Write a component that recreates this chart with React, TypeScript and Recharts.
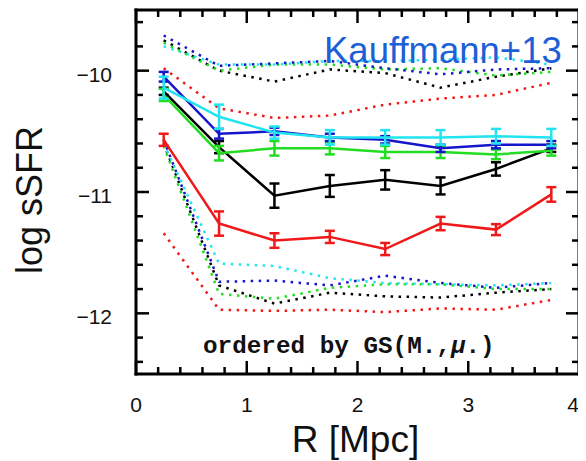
import { LineChart, Line, XAxis, YAxis, ErrorBar, Label } from "recharts"

// projected radius bins (Mpc)
const radius = [0.25, 0.75, 1.25, 1.75, 2.25, 2.75, 3.25, 3.75]

// median log sSFR with errors, per group
const red = [-10.57, -11.26, -11.4, -11.37, -11.47, -11.26, -11.31, -11.02]
const redErr = [0.05, 0.1, 0.06, 0.05, 0.05, 0.055, 0.045, 0.06]
const black = [-10.17, -10.63, -11.03, -10.95, -10.9, -10.95, -10.81, -10.64]
const blackErr = [0.03, 0.05, 0.1, 0.09, 0.08, 0.07, 0.055, 0.03]
const green = [-10.2, -10.68, -10.64, -10.64, -10.67, -10.67, -10.69, -10.66]
const greenErr = [0.05, 0.06, 0.06, 0.05, 0.05, 0.05, 0.04, 0.04]
const blue = [-10.05, -10.52, -10.5, -10.55, -10.57, -10.64, -10.61, -10.61]
const blueErr = [0.04, 0.04, 0.03, 0.03, 0.03, 0.03, 0.03, 0.03]
const cyan = [-10.14, -10.38, -10.51, -10.55, -10.55, -10.55, -10.54, -10.55]
const cyanErr = [0.09, 0.1, 0.05, 0.06, 0.06, 0.06, 0.06, 0.07]

// upper percentiles (dotted)
const redHi = [-9.98, -10.31, -10.39, -10.37, -10.28, -10.23, -10.2, -10.1]
const blackHi = [-9.75, -10.0, -10.09, -9.99, -10.02, -10.14, -10.05, -9.98]
const greenHi = [-9.77, -10.0, -9.95, -9.95, -9.99, -9.98, -10.04, -10.01]
const blueHi = [-9.71, -9.96, -9.94, -9.92, -9.98, -10.03, -9.99, -9.98]
const cyanHi = [-9.8, -9.95, -9.95, -9.92, -9.92, -9.91, -9.89, -9.95]

// lower percentiles (dotted)
const redLo = [-11.34, -11.97, -11.98, -11.97, -11.99, -11.96, -11.97, -11.89]
const blackLo = [-10.6, -11.77, -11.92, -11.83, -11.86, -11.87, -11.83, -11.8]
const greenLo = [-10.62, -11.84, -11.88, -11.79, -11.76, -11.76, -11.8, -11.8]
const blueLo = [-10.57, -11.74, -11.73, -11.77, -11.69, -11.75, -11.79, -11.75]
const cyanLo = [-10.6, -11.59, -11.61, -11.71, -11.75, -11.76, -11.77, -11.75]

const xTicks = [0, 0.2, 0.4, 0.6, 0.8, 1, 1.2, 1.4, 1.6, 1.8, 2, 2.2, 2.4, 2.6, 2.8, 3, 3.2, 3.4, 3.6, 3.8, 4]
const yTicks = [-12.4, -12.2, -12, -11.8, -11.6, -11.4, -11.2, -11, -10.8, -10.6, -10.4, -10.2, -10, -9.8, -9.6]

const rows = radius.map((r, i) => ({
  r,
  red: red[i], redErr: redErr[i], redHi: redHi[i], redLo: redLo[i],
  black: black[i], blackErr: blackErr[i], blackHi: blackHi[i], blackLo: blackLo[i],
  green: green[i], greenErr: greenErr[i], greenHi: greenHi[i], greenLo: greenLo[i],
  blue: blue[i], blueErr: blueErr[i], blueHi: blueHi[i], blueLo: blueLo[i],
  cyan: cyan[i], cyanErr: cyanErr[i], cyanHi: cyanHi[i], cyanLo: cyanLo[i],
}))

const colors: Record<string, string> = {
  red: "#f01818",
  black: "#000000",
  green: "#22dd22",
  blue: "#1515cc",
  cyan: "#22e4f0",
}
const order = ["black", "red", "green", "blue", "cyan"]

const FONT = "'Liberation Sans', Arial, Helvetica, sans-serif"
const MAJOR = 13
const MINOR = 7
const TW = 2.5

const frame = { stroke: "#000", strokeWidth: 3, strokeLinecap: "square" as const }

function BottomTick(props: any) {
  const { x, y, payload } = props
  const major = Number.isInteger(payload.value)
  // last label is pulled in a little so it stays on the page
  const lx = payload.value === 4 ? x - 6 : x
  return (
    <g>
      <line x1={x} x2={x} y1={y} y2={y - (major ? MAJOR : MINOR)} stroke="#000" strokeWidth={TW} />
      {major && (
        <text x={lx} y={y + 38} textAnchor="middle" fontSize={21} fontFamily={FONT} fill="#111">
          {payload.value}
        </text>
      )}
    </g>
  )
}

function TopTick(props: any) {
  const { x, y, payload } = props
  const major = Number.isInteger(payload.value)
  return <line x1={x} x2={x} y1={y} y2={y + (major ? MAJOR : MINOR)} stroke="#000" strokeWidth={TW} />
}

function LeftTick(props: any) {
  const { x, y, payload } = props
  const major = Number.isInteger(payload.value)
  return (
    <g>
      <line x1={x} x2={x + (major ? MAJOR : MINOR)} y1={y} y2={y} stroke="#000" strokeWidth={TW} />
      {major && (
        <text x={x - 24} y={y + 11} textAnchor="end" fontSize={21} fontFamily={FONT} fill="#111">
          {String(payload.value).replace("-", "\u2212")}
        </text>
      )}
    </g>
  )
}

function RightTick(props: any) {
  const { x, y, payload } = props
  const major = Number.isInteger(payload.value)
  return <line x1={x} x2={x - (major ? MAJOR : MINOR)} y1={y} y2={y} stroke="#000" strokeWidth={TW} />
}

function XTitle(props: any) {
  const vb = props.viewBox
  return (
    <text x={vb.x + vb.width / 2 - 2} y={vb.y + 78} textAnchor="middle" fontSize={37} fontFamily={FONT} fill="#111">
      R [Mpc]
    </text>
  )
}

function YTitle(props: any) {
  const vb = props.viewBox
  const cx = 34
  const cy = vb.y + vb.height / 2 + 8
  return (
    <text x={cx} y={cy} transform={`rotate(-90 ${cx} ${cy})`} textAnchor="middle" fontSize={36} fontFamily={FONT} fill="#111">
      log sSFR
    </text>
  )
}

export default function App() {
  return (
    <div style={{ position: "relative", width: 578, height: 453 }}>
      <LineChart width={578} height={453} data={rows} margin={{ top: 1, right: 6, left: 0, bottom: 0 }}>
        <XAxis
          xAxisId="b"
          dataKey="r"
          type="number"
          domain={[0, 4]}
          ticks={xTicks}
          interval={0}
          height={87}
          tickSize={0}
          tickMargin={0}
          tickLine={false}
          axisLine={frame}
          tick={BottomTick}
        >
          <Label content={XTitle} />
        </XAxis>
        <XAxis
          xAxisId="t"
          orientation="top"
          dataKey="r"
          type="number"
          domain={[0, 4]}
          ticks={xTicks}
          interval={0}
          height={1}
          tickSize={0}
          tickMargin={0}
          tickLine={false}
          axisLine={frame}
          tick={TopTick}
        />
        <YAxis
          yAxisId="l"
          type="number"
          domain={[-12.5, -9.5]}
          allowDataOverflow
          ticks={yTicks}
          interval={0}
          width={128}
          tickSize={0}
          tickMargin={0}
          tickLine={false}
          axisLine={frame}
          tick={LeftTick}
        >
          <Label content={YTitle} />
        </YAxis>
        <YAxis
          yAxisId="r"
          orientation="right"
          type="number"
          domain={[-12.5, -9.5]}
          allowDataOverflow
          ticks={yTicks}
          interval={0}
          width={1}
          tickSize={0}
          tickMargin={0}
          tickLine={false}
          axisLine={frame}
          tick={RightTick}
        />

        {/* percentile envelopes */}
        {order.map((k) => (
          <Line
            key={k + "Hi"}
            xAxisId="b"
            yAxisId="l"
            type="linear"
            dataKey={k + "Hi"}
            stroke={colors[k]}
            strokeWidth={2.5}
            strokeDasharray="2.5 5.5"
            dot={false}
            activeDot={false}
            isAnimationActive={false}
          />
        ))}
        {order.map((k) => (
          <Line
            key={k + "Lo"}
            xAxisId="b"
            yAxisId="l"
            type="linear"
            dataKey={k + "Lo"}
            stroke={colors[k]}
            strokeWidth={2.5}
            strokeDasharray="2.5 5.5"
            dot={false}
            activeDot={false}
            isAnimationActive={false}
          />
        ))}

        {/* medians with errors */}
        {order.map((k) => (
          <Line
            key={k}
            xAxisId="b"
            yAxisId="l"
            type="linear"
            dataKey={k}
            stroke={colors[k]}
            strokeWidth={2.5}
            dot={false}
            activeDot={false}
            isAnimationActive={false}
          >
            <ErrorBar dataKey={k + "Err"} direction="y" width={5} stroke={colors[k]} strokeWidth={2.5} />
          </Line>
        ))}
      </LineChart>
      <svg width={578} height={453} style={{ position: "absolute", left: 0, top: 0, pointerEvents: "none" }}>
        <text x={316} y={55} fontSize={36.5} fontFamily={FONT} fill="#1d5fd6">
          Kauffmann+13
        </text>
        <text x={195} y={345} fontSize={24.3} fontWeight="bold" fontFamily="'Liberation Mono', 'Courier New', monospace" fill="#111">
          ordered by GS(M.,<tspan fontStyle="italic">μ</tspan>.)
        </text>
      </svg>
    </div>
  )
}
